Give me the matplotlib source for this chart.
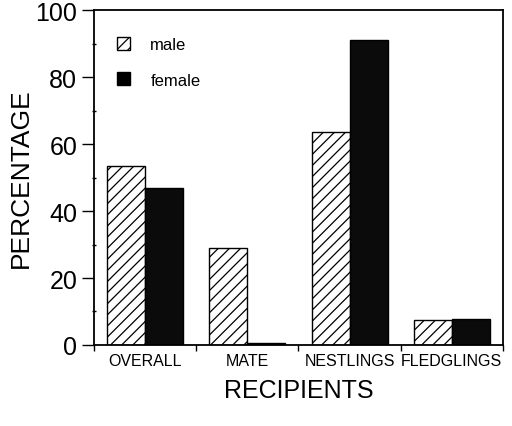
import matplotlib
matplotlib.use('Agg')
from matplotlib import pyplot as plt
from matplotlib.patches import Patch
from matplotlib.ticker import MultipleLocator
import numpy as np

plt.rcParams['font.family'] = ['Liberation Sans', 'DejaVu Sans']
plt.rcParams['hatch.linewidth'] = 0.9

categories = ['OVERALL', 'MATE', 'NESTLINGS', 'FLEDGLINGS']
male = [53.5, 29, 63.5, 7.5]
female = [47, 0.5, 91, 7.8]

fig = plt.figure(figsize=(5.12, 4.27), dpi=100)
ax = fig.add_axes([0.1836, 0.1897, 0.7988, 0.7845])

x = np.arange(len(categories))
w = 0.372
ax.bar(x - w / 2, male, w, color='white', edgecolor='black', hatch='///', linewidth=1.0)
ax.bar(x + w / 2, female, w, color='#0b0b0b', edgecolor='black', linewidth=1.0)

ax.set_xlim(-0.5, 3.5)
ax.set_ylim(0, 100)

# category labels between the boundary ticks
ax.set_xticks(x)
ax.set_xticklabels(categories, fontsize=11.5)
ax.tick_params(axis='x', which='major', length=0, pad=6)
ax.set_xticks(np.arange(-0.5, 4, 1), minor=True)
ax.tick_params(axis='x', which='minor', length=4, width=1, direction='out')

ax.yaxis.set_major_locator(MultipleLocator(20))
ax.yaxis.set_minor_locator(MultipleLocator(10))
ax.tick_params(axis='y', which='major', labelsize=18, length=9, width=1, direction='out', pad=3)
ax.tick_params(axis='y', which='minor', length=3, width=1, direction='inout')

for s in ax.spines.values():
    s.set_linewidth(1.3)

ax.set_ylabel('PERCENTAGE', fontsize=19, labelpad=2)
ax.set_xlabel('RECIPIENTS', fontsize=18, labelpad=7)

handles = [Patch(facecolor='white', edgecolor='black', hatch='///', label='male'),
           Patch(facecolor='black', edgecolor='black', label='female')]
ax.legend(handles=handles, loc='upper left', bbox_to_anchor=(0.04, 0.94), borderaxespad=0,
          frameon=False, fontsize=12, handlelength=0.8, handleheight=0.85,
          handletextpad=1.2, labelspacing=1.2)

fig.savefig('out.png', dpi=100)
